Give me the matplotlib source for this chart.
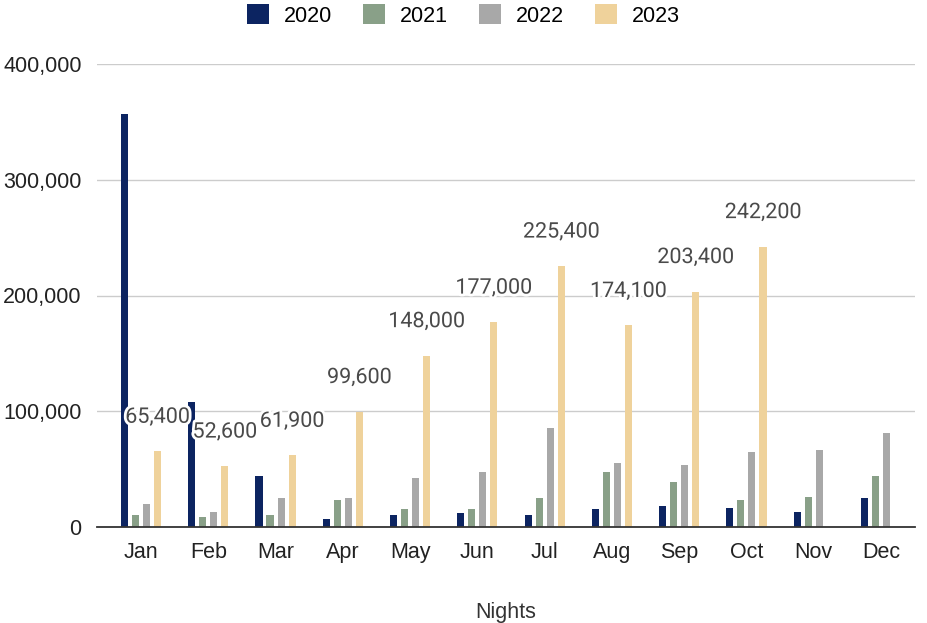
import matplotlib
matplotlib.use("Agg")
import matplotlib.pyplot as plt
import matplotlib.patheffects as pe
import numpy as np

months = ["Jan", "Feb", "Mar", "Apr", "May", "Jun",
          "Jul", "Aug", "Sep", "Oct", "Nov", "Dec"]
years = ["2020", "2021", "2022", "2023"]

nights_2020 = [357000, 108000, 44000, 7000, 10400, 11800,
               10400, 15300, 18100, 16700, 13200, 24800]
nights_2021 = [10400, 9000, 10400, 23300, 15300, 15300,
               24800, 47200, 39200, 23300, 26200, 44000]
nights_2022 = [20000, 13000, 25000, 24800, 42600, 47200,
               85800, 55000, 53600, 65000, 66500, 81000]
nights_2023 = [65400, 52600, 61900, 99600, 148000, 177000,
               225400, 174100, 203400, 242200, np.nan, np.nan]

colors = ["#0c2461", "#89a088", "#a8a8a8", "#efd29b"]

# axis text looks like Arial, data labels like Roboto
plt.rcParams["font.family"] = ["Liberation Sans", "DejaVu Sans"]

W, H = 927, 623
fig = plt.figure(figsize=(W / 100, H / 100), dpi=100)
ax = fig.add_axes([97 / W, (H - 527) / H, (915 - 97) / W, (527 - 64) / H])

x = np.arange(len(months))
step = 0.164
width = 0.105
series = [nights_2020, nights_2021, nights_2022, nights_2023]
for k, (vals, col, lab) in enumerate(zip(series, colors, years)):
    ax.bar(x + (k - 1.5) * step, vals, width, color=col, label=lab, zorder=3)

# data labels on the 2023 series
for xi, v in zip(x + 1.5 * step, nights_2023):
    if np.isnan(v):
        continue
    ax.annotate(f"{v:,.0f}", (xi, v), xytext=(0, 24.5), textcoords="offset points",
                ha="center", va="center", fontsize=15.5, color="#4a4a4a", zorder=5,
                family=["Roboto", "DejaVu Sans"],
                path_effects=[pe.withStroke(linewidth=4, foreground="white")])

ax.set_xlim(-0.654, 11.506)
ax.set_ylim(0, 400000)
ax.set_yticks([0, 100000, 200000, 300000, 400000])
ax.set_yticklabels([f"{t:,}" for t in [0, 100000, 200000, 300000, 400000]])
ax.set_xticks(x)
ax.set_xticklabels(months)
ax.tick_params(axis="y", length=0, pad=11, labelsize=15.5, labelcolor="#222222")
ax.tick_params(axis="x", length=0, pad=11, labelsize=15.5, labelcolor="#222222")
ax.grid(axis="y", color="#cccccc", linewidth=1, zorder=0)
for s in ["top", "right", "left"]:
    ax.spines[s].set_visible(False)
ax.spines["bottom"].set_color("#333333")
ax.spines["bottom"].set_linewidth(1.3)
ax.spines["bottom"].set_zorder(4)

ax.set_xlabel("Nights", fontsize=15.5, color="#333333", labelpad=28)

fig.legend(loc="center", bbox_to_anchor=(0.5, 1 - 15.5 / H), ncol=4, frameon=False,
           fontsize=15.5, handlelength=1.0, handleheight=1.0, handletextpad=0.7,
           columnspacing=1.45, borderpad=0)

fig.savefig("out.png", dpi=100)
